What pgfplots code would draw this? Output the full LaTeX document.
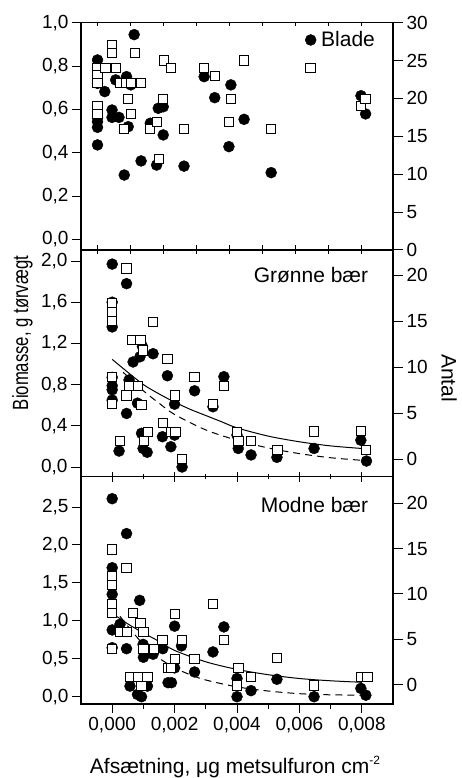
\documentclass[border=0pt]{standalone}
\usepackage{pgfplots}
\pgfplotsset{compat=1.18}
\usepackage{fontspec}
\setmainfont{Liberation Sans}
\newfontfamily\narrowfont[FakeStretch=0.76]{Liberation Sans}

\pgfplotsset{
  base/.style={scale only axis, width=312pt, clip=false,
    scaled x ticks=false, scaled y ticks=false,
    axis line style={line width=1.1pt},
    every tick/.style={black, line width=1pt},
    tick label style={font=\fontsize{19}{19}\selectfont},
    major tick length=9pt, minor tick length=5pt},
  circ/.style={only marks, mark=*, mark size=5.5pt, color=black},
  sq/.style={only marks, mark=square*, mark size=4.6pt, mark options={fill=white, draw=black, line width=1pt}},
  fitline/.style={no marks, black, line width=1pt, smooth},
  topx/.style={xmin=-0.0005, xmax=0.00895,
    xtick={0,0.001,0.002,0.003,0.004,0.005,0.006,0.007,0.008}, xticklabels={}},
  lowx/.style={xmin=-0.001, xmax=0.009,
    xtick={0,0.002,0.004,0.006,0.008},
    minor xtick={0.001,0.003,0.005,0.007}},
  rightax/.style={axis y line*=right, axis x line=none, ytick align=outside,
    major tick length=10pt},
}

\begin{document}
\begin{tikzpicture}
\path[use as bounding box] (0pt,0pt) rectangle (462pt,778pt);

% ---------------- Top panel: Blade ----------------
\begin{axis}[base, topx, at={(81pt,528pt)}, anchor=south west, height=227.3pt,
  ymin=-0.049, ymax=1.0,
  ytick={0,0.2,0.4,0.6,0.8,1.0},
  yticklabels={{0,0},{0,2},{0,4},{0,6},{0,8},{1,0}},
  ytick pos=left, ytick align=outside,
  xtick pos=left, xtick align=center,
  legend image code/.code={\draw[mark repeat=2,mark phase=2,#1] plot coordinates {(0pt,0pt)(6pt,0pt)(12pt,0pt)};},
  legend style={at={(axis description cs:0.718,0.966)}, anchor=north west, draw=none, fill=none,
    inner sep=0pt, column sep=3pt, font=\fontsize{21}{21}\selectfont,
    nodes={inner xsep=2pt, inner ysep=1pt}},
  legend cell align=left]
\addplot[circ] coordinates {
(0,0.828)(0,0.72)(0,0.56)(0,0.543)(0,0.517)(0,0.436)
(0.00022,0.682)(0.00044,0.597)(0.00044,0.563)(0.00055,0.736)(0.00065,0.563)
(0.00081,0.297)(0.00088,0.751)(0.00093,0.52)(0.00101,0.713)(0.00111,0.945)
(0.00132,0.362)(0.0016,0.536)(0.00179,0.343)(0.00184,0.605)(0.00199,0.612)
(0.00199,0.482)(0.00262,0.338)(0.00323,0.751)(0.00355,0.654)(0.00398,0.428)
(0.00404,0.713)(0.00444,0.554)(0.00526,0.308)(0.00798,0.663)(0.00812,0.579)};
\addlegendentry{Blade}
\end{axis}

\begin{axis}[base, topx, at={(81pt,528pt)}, anchor=south west, height=227.3pt,
  rightax, ymin=0, ymax=30, ytick={0,5,10,15,20,25,30},
  yticklabels={0,5,10,15,20,25,30}]
\addplot[sq] coordinates {
(0,24.0)(0,23.1)(0,22.0)(0,19.0)(0,18.0)(0.00024,24.0)(0.00044,27.1)(0.00044,26.0)
(0.00055,24.0)(0.00068,22.0)(0.00081,16.0)(0.00088,22.0)(0.00093,19.9)(0.00101,22.0)
(0.00101,18.0)(0.00113,26.0)(0.00131,22.0)(0.0016,16.0)(0.00179,16.9)(0.00186,12.0)
(0.00199,19.9)(0.00202,25.0)(0.00222,24.0)(0.00262,16.0)(0.00322,24.0)(0.00355,23.0)
(0.00399,16.9)(0.00404,19.9)(0.00444,25.0)(0.00526,16.0)(0.00645,24.0)(0.00797,19.0)
(0.00812,19.9)};
\end{axis}

% top border ticks of the top panel
\begin{axis}[base, topx, at={(81pt,528pt)}, anchor=south west, height=227.3pt,
  ymin=0, ymax=1, axis y line=none, axis x line*=top, xtick align=inside,
  major tick length=3.5pt]
\addplot[draw=none] coordinates {(0,0.5)};
\end{axis}

% ---------------- Middle panel: Grønne bær ----------------
\begin{axis}[base, lowx, at={(81pt,301.3pt)}, anchor=south west, height=226.7pt,
  ymin=-0.094, ymax=2.107,
  ytick={0,0.4,0.8,1.2,1.6,2.0},
  yticklabels={{0,0},{0,4},{0,8},{1,2},{1,6},{2,0}},
  ytick pos=left, ytick align=outside,
  xtick pos=left, xtick align=center, xticklabels={}, major tick length=10pt]
\addplot[circ] coordinates {
(0,1.97)(0,1.60)(0,1.36)(0,0.87)(0,0.79)(0,0.75)(0,0.65)
(0.00022,0.155)(0.00046,1.78)(0.00046,0.52)(0.00054,0.845)(0.00067,1.02)(0.00081,0.62)
(0.00089,1.07)(0.00094,0.327)(0.00097,1.17)(0.00099,0.18)(0.00112,0.143)(0.00131,1.10)
(0.00161,0.294)(0.00177,0.886)(0.00188,0.197)(0.002,0.61)(0.002,0.31)(0.00224,0.0)
(0.00264,0.74)(0.00323,0.585)(0.00358,0.877)(0.004,0.31)(0.00404,0.18)(0.00445,0.117)
(0.00528,0.094)(0.00647,0.18)(0.00797,0.26)(0.00815,0.058)};
\addplot[fitline] coordinates {
(0,1.045)(0.0005,0.92)(0.001,0.80)(0.0015,0.71)(0.002,0.63)(0.0025,0.56)(0.003,0.50)
(0.0035,0.44)(0.004,0.38)(0.005,0.30)(0.006,0.245)(0.007,0.205)(0.008,0.18)};
\addplot[fitline, dash pattern=on 7pt off 5pt] coordinates {
(0.00035,0.92)(0.001,0.74)(0.0015,0.62)(0.002,0.51)(0.003,0.36)(0.004,0.26)
(0.005,0.185)(0.006,0.13)(0.007,0.09)(0.008,0.065)};
\node[anchor=base east, font=\fontsize{21}{21}\selectfont] at (axis description cs:0.9317,0.8575) {Grønne bær};
\end{axis}

\begin{axis}[base, lowx, at={(81pt,301.3pt)}, anchor=south west, height=226.7pt,
  rightax, ymin=-1.92, ymax=22.72, ytick={0,5,10,15,20},
  yticklabels={0,5,10,15,20}]
\addplot[sq] coordinates {
(0,17.0)(0,16.0)(0,15.0)(0,8.9)(0,6.0)(0.00025,1.96)(0.00046,20.7)(0.00046,6.9)
(0.00054,7.9)(0.00064,12.9)(0.00083,7.9)(0.00091,12.9)(0.00094,5.9)(0.00099,11.8)
(0.00102,1.96)(0.00115,2.97)(0.00131,14.9)(0.00164,3.95)(0.00177,10.9)(0.0019,2.97)
(0.002,6.9)(0.00203,2.97)(0.00224,0.0)(0.00264,8.9)(0.00323,5.95)(0.00358,7.9)
(0.004,2.97)(0.00405,2.0)(0.00445,2.0)(0.0053,1.0)(0.00647,3.0)(0.00797,3.04)(0.00813,1.0)};
\end{axis}

% ---------------- Bottom panel: Modne bær ----------------
\begin{axis}[base, lowx, at={(81pt,74pt)}, anchor=south west, height=227.3pt,
  ymin=-0.096, ymax=2.90,
  ytick={0,0.5,1.0,1.5,2.0,2.5},
  yticklabels={{0,0},{0,5},{1,0},{1,5},{2,0},{2,5}},
  ytick pos=left, ytick align=outside,
  xtick pos=left, xtick align=outside,
  xticklabels={{0,000},{0,002},{0,004},{0,006},{0,008}},
  xticklabel style={yshift=-1pt}]
\addplot[circ] coordinates {
(0,2.61)(0,1.70)(0,1.35)(0,0.88)(0,0.646)(0.00025,0.955)(0.00046,2.15)(0.00046,0.633)
(0.00057,0.14)(0.00081,0.03)(0.00088,1.27)(0.00094,0.0)(0.00099,0.69)(0.001,0.52)
(0.00113,0.14)(0.00131,0.56)(0.00162,0.633)(0.00179,0.185)(0.0019,0.185)(0.002,0.93)
(0.002,0.38)(0.00222,0.67)(0.00264,0.326)(0.00323,0.59)(0.00358,0.92)(0.004,0.24)
(0.004,0.0)(0.00445,0.08)(0.00528,0.23)(0.00647,0.0)(0.00797,0.11)(0.00813,0.02)};
\addplot[fitline] coordinates {
(0,1.10)(0.0005,0.96)(0.001,0.84)(0.0015,0.73)(0.002,0.61)(0.003,0.46)(0.004,0.36)
(0.005,0.29)(0.006,0.24)(0.007,0.21)(0.008,0.19)};
\addplot[fitline, dash pattern=on 7pt off 5pt] coordinates {
(0.00025,1.06)(0.0005,0.93)(0.001,0.69)(0.0015,0.51)(0.002,0.38)(0.0025,0.29)
(0.003,0.22)(0.004,0.13)(0.005,0.075)(0.006,0.04)(0.007,0.025)(0.008,0.02)};
\node[anchor=base east, font=\fontsize{21}{21}\selectfont] at (axis description cs:0.9317,0.843) {Modne bær};
\end{axis}

\begin{axis}[base, lowx, at={(81pt,74pt)}, anchor=south west, height=227.3pt,
  rightax, ymin=-2.13, ymax=22.93, ytick={0,5,10,15,20},
  yticklabels={0,5,10,15,20}]
\addplot[sq] coordinates {
(0,14.9)(0,12.0)(0,11.0)(0,8.9)(0,7.9)(0,3.97)(0.00025,5.8)(0.00046,12.9)(0.00048,5.8)
(0.00057,0.85)(0.00067,7.9)(0.00083,0.85)(0.00091,6.8)(0.00094,-0.14)(0.001,5.8)
(0.001,3.9)(0.00113,0.85)(0.00133,3.9)(0.00161,4.9)(0.0018,1.87)(0.00188,1.87)
(0.002,7.8)(0.00202,2.87)(0.00224,4.9)(0.00264,2.87)(0.00323,8.9)(0.00358,4.9)
(0.004,-0.1)(0.00405,1.87)(0.00445,0.88)(0.00528,2.9)(0.00647,-0.1)(0.00797,0.88)(0.00818,0.88)};
\end{axis}

% ---------------- Axis titles ----------------
\node[rotate=90, font=\narrowfont\fontsize{22}{22}\selectfont] at (22.5pt,445pt) {Biomasse, g tørvægt};
\node[rotate=-90, font=\fontsize{21}{21}\selectfont] at (449pt,400pt) {Antal};
\node[anchor=base, font=\fontsize{21}{21}\selectfont] at (235pt,4.7pt)
  {Afsætning, μg metsulfuron cm\raisebox{0.75ex}{\fontsize{12}{12}\selectfont -2}};
\end{tikzpicture}
\end{document}
